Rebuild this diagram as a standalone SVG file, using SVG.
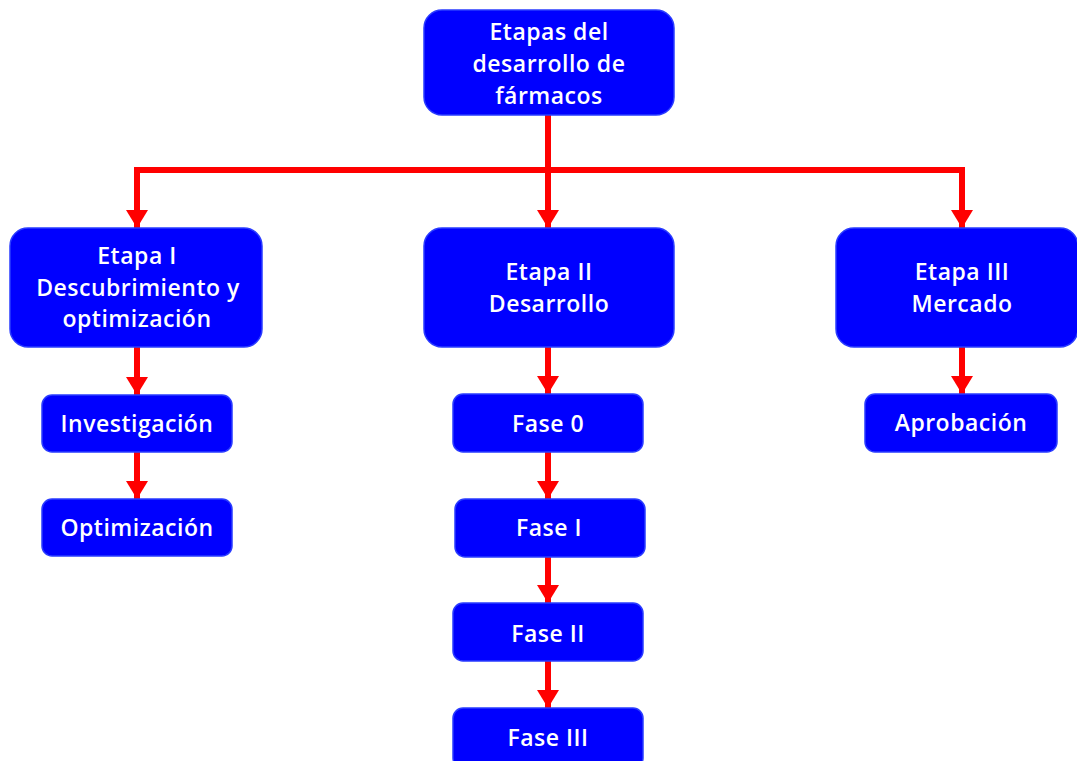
<svg xmlns="http://www.w3.org/2000/svg" width="1077" height="761" viewBox="0 0 1077 761">
<defs>
<style>
.box{fill:#0000FF;stroke:#2a3cff;stroke-width:1.5}
.t{fill:#ffffff;font-family:"Open Sans","Noto Sans","Liberation Sans",sans-serif;font-size:23px;font-weight:600;letter-spacing:0.5px;text-anchor:middle}
.c{fill:none;stroke:#FF0000;stroke-width:6}
</style>
<marker id="ad" markerUnits="userSpaceOnUse" markerWidth="18" markerHeight="22" refX="18" refY="11" orient="auto" viewBox="0 0 18 22">
<path d="M0,0 L18,11 L0,22 Z" fill="#FF0000"/>
</marker>
</defs>
<rect width="1077" height="761" fill="#ffffff"/>
<g id="connectors">
<path class="c" d="M548,115 V170"/>
<path class="c" d="M137,173 V170 H962 V173"/>
<path class="c" d="M137,170 V228" marker-end="url(#ad)"/>
<path class="c" d="M548,170 V228" marker-end="url(#ad)"/>
<path class="c" d="M962,170 V228" marker-end="url(#ad)"/>
<path class="c" d="M137,347 V395" marker-end="url(#ad)"/>
<path class="c" d="M137,452 V499" marker-end="url(#ad)"/>
<path class="c" d="M548,347 V394" marker-end="url(#ad)"/>
<path class="c" d="M548,452 V499" marker-end="url(#ad)"/>
<path class="c" d="M548,557 V603" marker-end="url(#ad)"/>
<path class="c" d="M548,661 V708" marker-end="url(#ad)"/>
<path class="c" d="M962,347 V394" marker-end="url(#ad)"/>
</g>
<g id="n-root"><rect class="box" x="424" y="10" width="250" height="105" rx="18"/>
<text class="t" x="549" y="40">Etapas del</text><text class="t" x="549" y="72">desarrollo de</text><text class="t" x="549" y="104">fármacos</text></g>
<g id="n-etapa1"><rect class="box" x="10" y="228" width="252" height="119" rx="18"/>
<text class="t" x="137" y="264">Etapa I</text><text class="t" x="138" y="296">Descubrimiento y</text><text class="t" x="137" y="327">optimización</text></g>
<g id="n-etapa2"><rect class="box" x="424" y="228" width="250" height="119" rx="18"/>
<text class="t" x="549" y="280">Etapa II</text><text class="t" x="549" y="312">Desarrollo</text></g>
<g id="n-etapa3"><rect class="box" x="836" y="228" width="242" height="119" rx="18"/>
<text class="t" x="962" y="280">Etapa III</text><text class="t" x="962" y="312">Mercado</text></g>
<g id="n-invest"><rect class="box" x="42" y="395" width="190" height="57" rx="10"/>
<text class="t" x="137" y="432">Investigación</text></g>
<g id="n-optim"><rect class="box" x="42" y="499" width="190" height="57" rx="10"/>
<text class="t" x="137" y="536">Optimización</text></g>
<g id="n-fase0"><rect class="box" x="453" y="394" width="190" height="58" rx="10"/>
<text class="t" x="548" y="432">Fase 0</text></g>
<g id="n-fase1"><rect class="box" x="455" y="499" width="190" height="58" rx="10"/>
<text class="t" x="549" y="536">Fase I</text></g>
<g id="n-fase2"><rect class="box" x="453" y="603" width="190" height="58" rx="10"/>
<text class="t" x="548" y="642">Fase II</text></g>
<g id="n-fase3"><rect class="box" x="453" y="708" width="190" height="60" rx="10"/>
<text class="t" x="548" y="746">Fase III</text></g>
<g id="n-aprob"><rect class="box" x="865" y="394" width="192" height="58" rx="10"/>
<text class="t" x="961" y="431">Aprobación</text></g>
</svg>
